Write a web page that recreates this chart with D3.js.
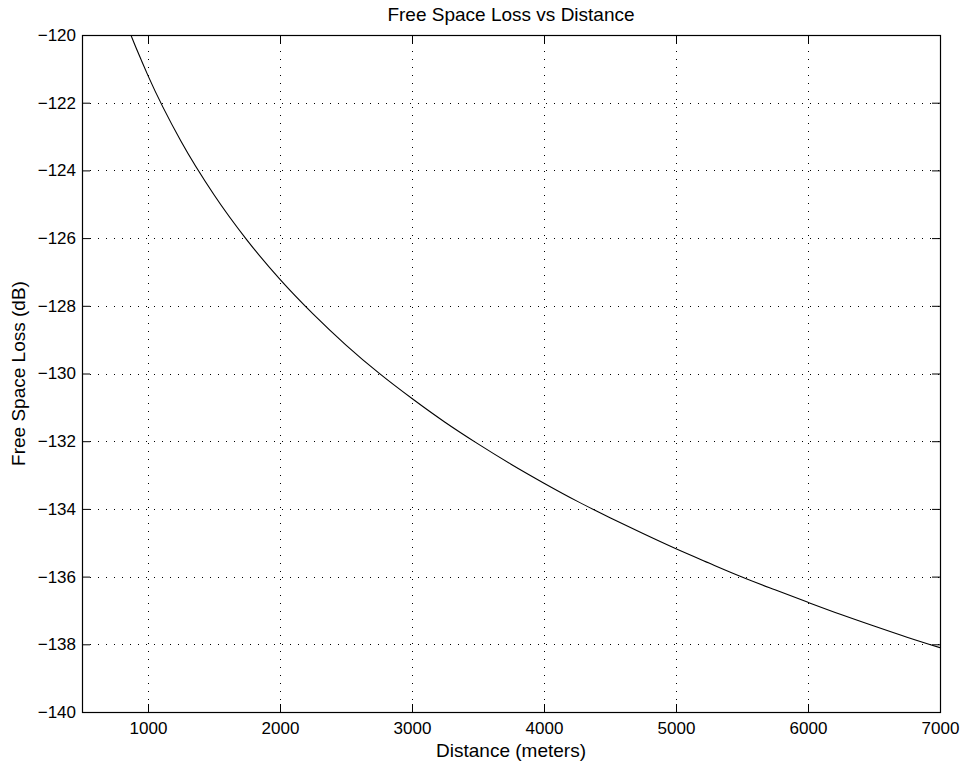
<html>
<head>
<script src="https://d3js.org/d3.v7.min.js"></script>
<style>
    body { margin: 0; background-color: #fff; }
    svg text { font-family: 'Liberation Sans', Arial, sans-serif; font-size: 19px; fill: #000; }
    svg .tick text { font-size: 17px; }
</style>
</head>
<body>
<svg width="964" height="765"></svg>
<script type="text/javascript">
// distance (m) and free space loss (dB)
var distance = [865, 900, 950, 1000, 1250, 1500, 1750, 2000, 2250, 2500, 2750, 3000, 3250, 3500, 3750,
                4000, 4250, 4500, 4750, 5000, 5250, 5500, 5750, 6000, 6250, 6500, 6750, 7000];
var lossDb   = [-119.95, -120.29, -120.75, -121.20, -123.14, -124.72, -126.06, -127.22, -128.24, -129.16, -129.99, -130.74, -131.44, -132.08, -132.68,
                -133.24, -133.77, -134.26, -134.73, -135.18, -135.60, -136.01, -136.39, -136.76, -137.12, -137.46, -137.79, -138.10];
var xTicks = [1000, 2000, 3000, 4000, 5000, 6000, 7000];
var yTicks = [-140, -138, -136, -134, -132, -130, -128, -126, -124, -122, -120];

var svg = d3.select("svg"),
    margin = {top: 35, right: 24, bottom: 53, left: 82},
    width = +svg.attr("width") - margin.left - margin.right,
    height = +svg.attr("height") - margin.top - margin.bottom,
    g = svg.append("g").attr("transform", "translate(" + margin.left + "," + margin.top + ")");

var x = d3.scaleLinear().domain([500, 7000]).range([0, width]);
var y = d3.scaleLinear().domain([-140, -120]).range([height, 0]);

// dotted grid
g.append("g").selectAll("line").data(xTicks.filter(function(d) { return d < 7000; }))
    .enter().append("line")
    .attr("x1", function(d) { return Math.round(x(d)) + 0.5; }).attr("x2", function(d) { return Math.round(x(d)) + 0.5; })
    .attr("y1", 0).attr("y2", height)
    .attr("stroke", "#000").attr("stroke-width", 1).attr("stroke-dasharray", "1,7");
g.append("g").selectAll("line").data(yTicks.filter(function(d) { return d > -140 && d < -120; }))
    .enter().append("line")
    .attr("y1", function(d) { return Math.round(y(d)) + 0.5; }).attr("y2", function(d) { return Math.round(y(d)) + 0.5; })
    .attr("x1", 0).attr("x2", width)
    .attr("stroke", "#000").attr("stroke-width", 1).attr("stroke-dasharray", "1,7");

// axes: ticks pointing inward on all four sides
var tickLen = 8;
var xAxisB = d3.axisBottom(x).tickValues(xTicks).tickSizeInner(-tickLen).tickSizeOuter(0).tickPadding(10)
    .tickFormat(d3.format("d"));
var xAxisT = d3.axisTop(x).tickValues(xTicks).tickSizeInner(-tickLen).tickSizeOuter(0).tickFormat("");
var yAxisL = d3.axisLeft(y).tickValues(yTicks).tickSizeInner(-tickLen).tickSizeOuter(0).tickPadding(6)
    .tickFormat(function(d) { return "\u2212" + Math.abs(d); });
var yAxisR = d3.axisRight(y).tickValues(yTicks).tickSizeInner(-tickLen).tickSizeOuter(0).tickFormat("");

g.append("g").attr("transform", "translate(0," + height + ")").call(xAxisB);
g.append("g").call(xAxisT);
g.append("g").call(yAxisL);
g.append("g").attr("transform", "translate(" + width + ",0)").call(yAxisR);
g.selectAll(".domain").remove();
g.selectAll(".tick text").attr("font-size", null).attr("font-family", null);
g.selectAll(".tick line").attr("stroke", "#000");

// box
g.append("rect").attr("x", 0.5).attr("y", 0.5).attr("width", width).attr("height", height)
    .attr("fill", "none").attr("stroke", "#000").attr("stroke-width", 1.2);

// curve
g.append("clipPath").attr("id", "clip").append("rect").attr("width", width).attr("height", height);
var line = d3.line()
    .x(function(d, i) { return x(distance[i]); })
    .y(function(d) { return y(d); })
    .curve(d3.curveMonotoneX);
g.append("path")
    .datum(lossDb)
    .attr("clip-path", "url(#clip)")
    .attr("fill", "none")
    .attr("stroke", "#000")
    .attr("stroke-width", 1.1)
    .attr("d", line);

// labels
svg.append("text").attr("x", margin.left + width / 2).attr("y", 21)
    .attr("text-anchor", "middle").text("Free Space Loss vs Distance");
svg.append("text").attr("x", margin.left + width / 2).attr("y", 757)
    .attr("text-anchor", "middle").text("Distance (meters)");
svg.append("text").attr("transform", "translate(25," + (margin.top + height / 2) + ") rotate(-90)")
    .attr("text-anchor", "middle").text("Free Space Loss (dB)");
</script>
</body>
</html>
